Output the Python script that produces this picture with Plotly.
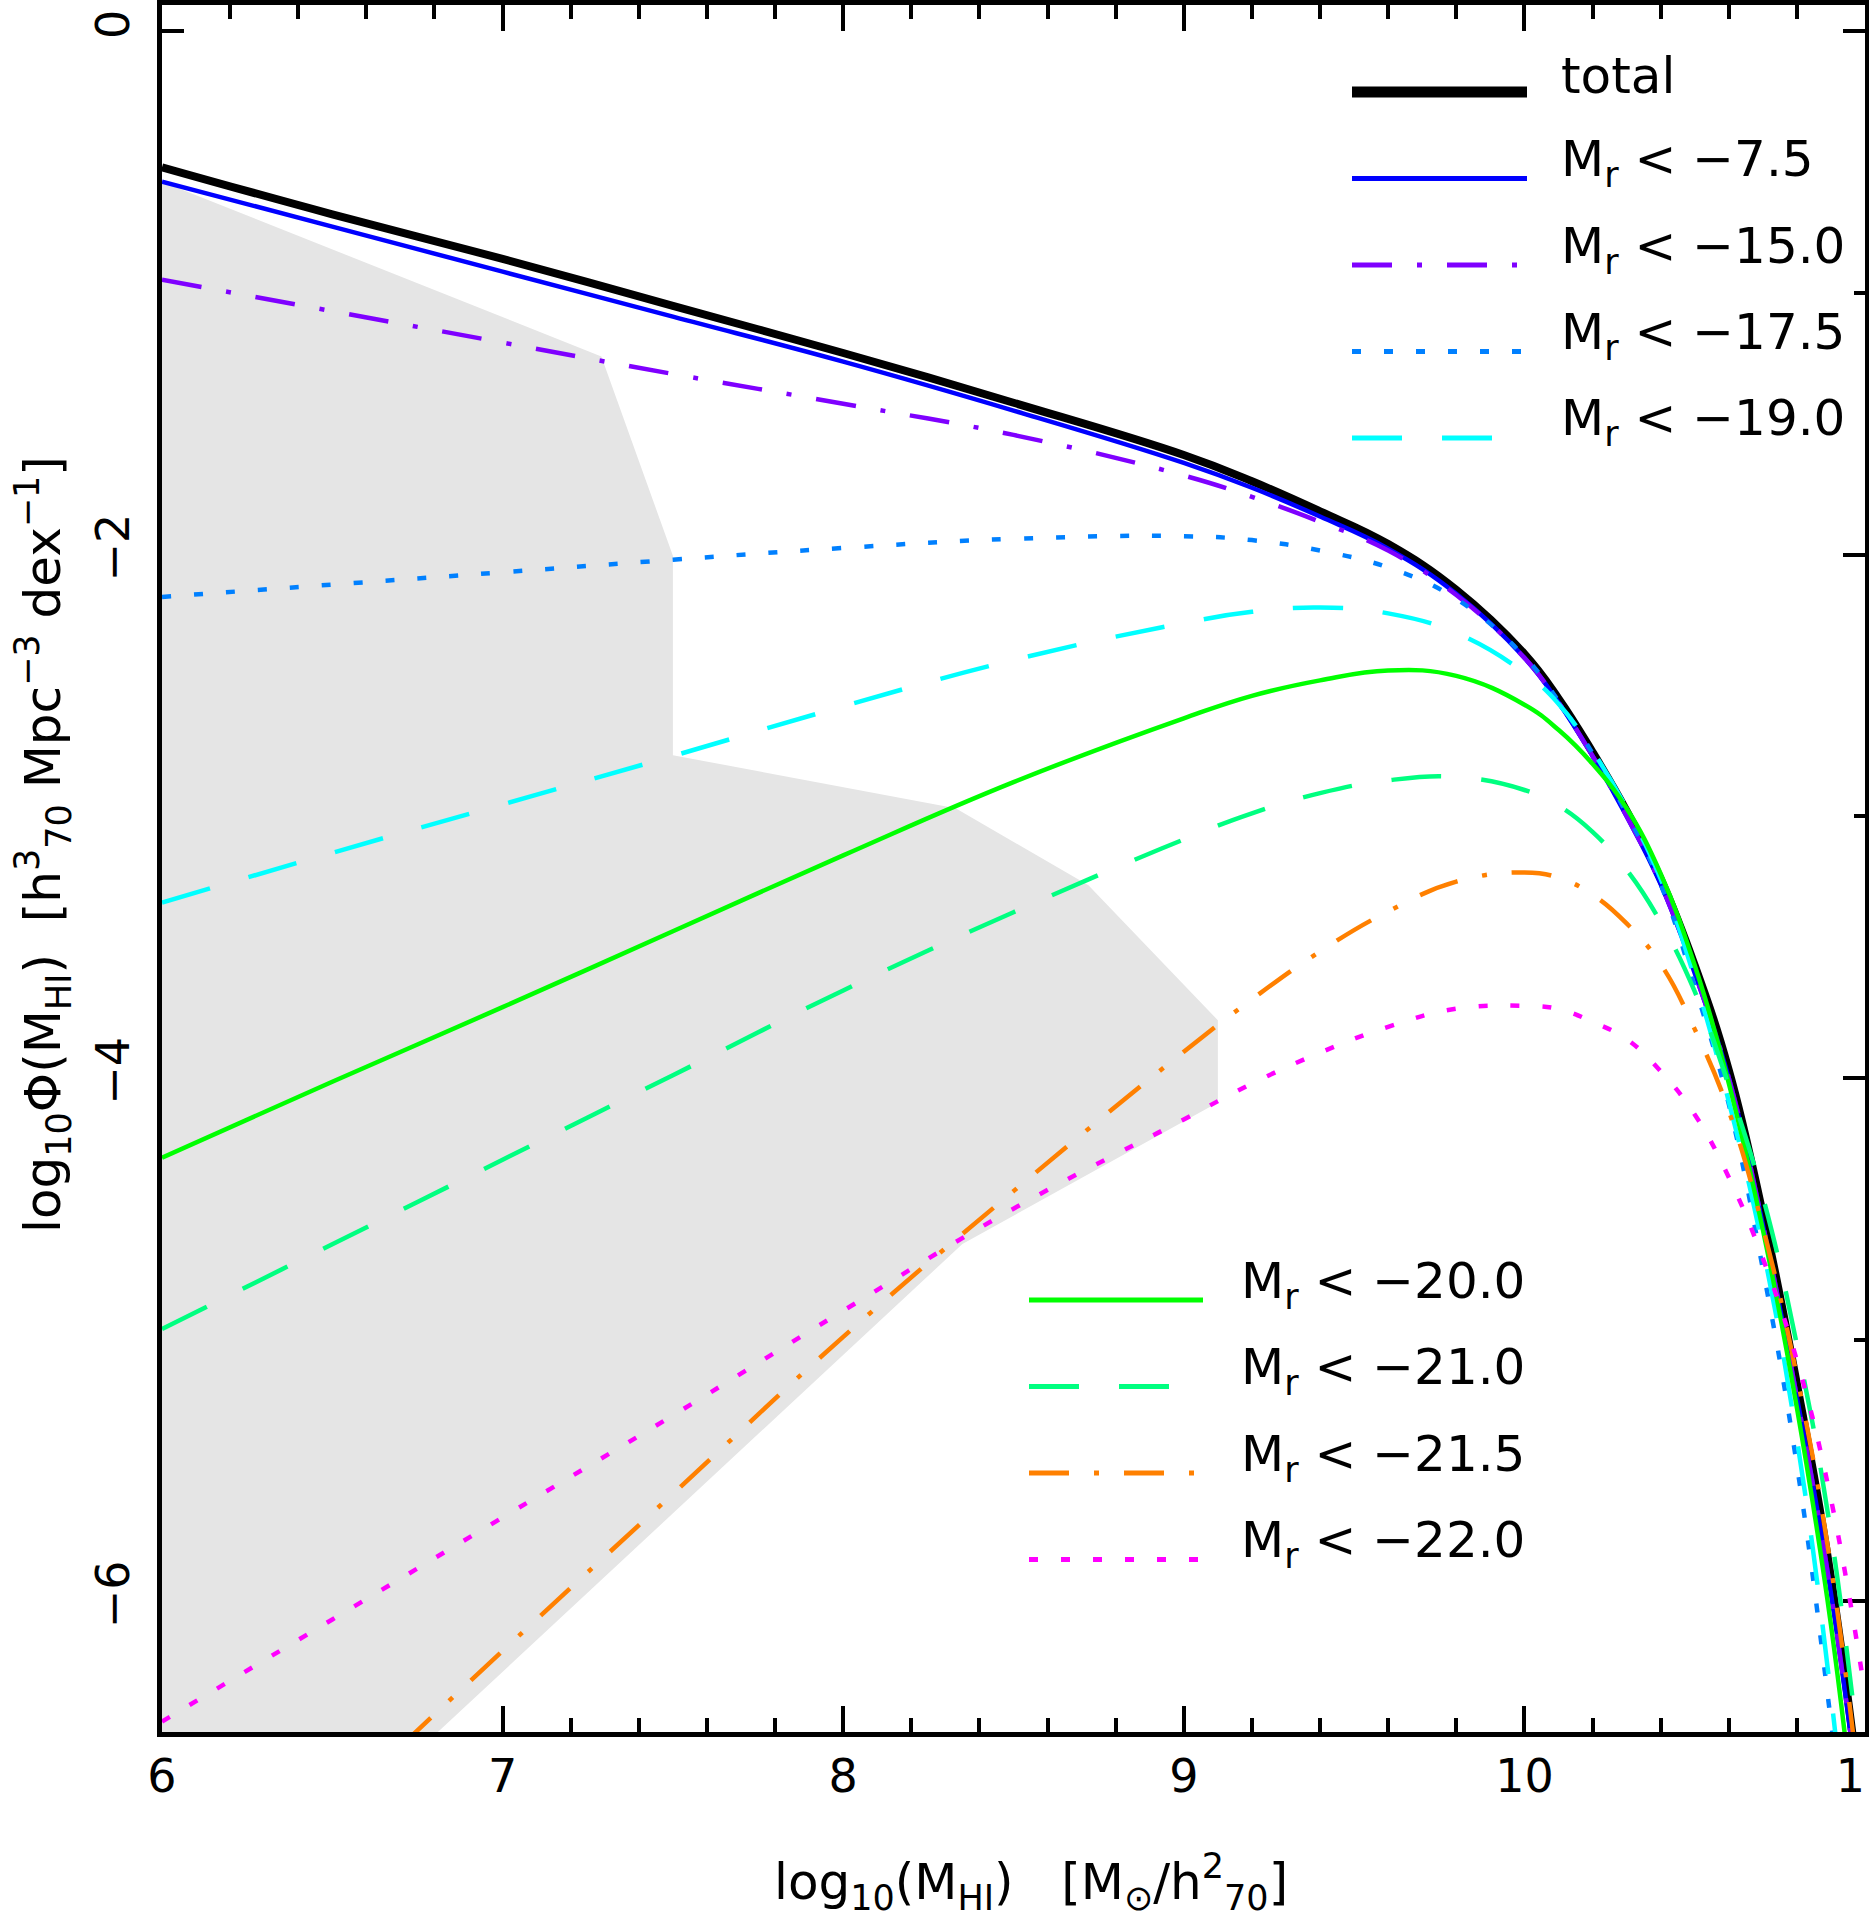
import plotly.graph_objects as go

# log10(M_HI) grid the curves were read at
log_m = [6.0, 6.5, 7.0, 7.5, 8.0, 8.5, 9.0, 9.2, 9.4, 9.6, 9.8,
         10.0, 10.1, 10.2, 10.3, 10.4, 10.5, 10.6, 10.7, 10.8, 10.9, 11.0]

# log10 phi, one list per magnitude cut
phi_total = [-0.52, -0.70, -0.87, -1.05, -1.23, -1.42, -1.62, -1.72, -1.835, -1.96, -2.135,
             -2.38, -2.55, -2.755, -2.98, -3.24, -3.57, -3.97, -4.52, -5.17, -5.91, -6.9]
phi_75 = [-0.575, -0.747, -0.919, -1.091, -1.263, -1.45, -1.65, -1.745, -1.855, -1.978, -2.15,
          -2.395, -2.565, -2.77, -3.0, -3.26, -3.60, -4.00, -4.56, -5.22, -5.97, -6.95]
phi_150 = [-0.95, -1.07, -1.19, -1.31, -1.424, -1.543, -1.698, -1.78, -1.875, -1.985, -2.155,
           -2.395, -2.565, -2.77, -3.0, -3.26, -3.60, -4.00, -4.56, -5.22, -5.97, -6.95]
phi_175 = [-2.162, -2.115, -2.068, -2.02, -1.975, -1.94, -1.93, -1.945, -1.985, -2.05, -2.17,
           -2.39, -2.56, -2.76, -2.99, -3.26, -3.65, -4.10, -4.73, -5.48, -6.46, -7.6]
phi_190 = [-3.33, -3.14, -2.955, -2.77, -2.58, -2.403, -2.262, -2.219, -2.203, -2.225, -2.30,
           -2.452, -2.57, -2.75, -2.97, -3.24, -3.62, -4.09, -4.65, -5.38, -6.36, -7.6]
phi_200 = [-4.305, -4.015, -3.73, -3.44, -3.15, -2.87, -2.626, -2.54, -2.481, -2.443, -2.464,
           -2.574, -2.67, -2.80, -2.97, -3.22, -3.57, -4.02, -4.58, -5.26, -6.09, -7.2]
phi_210 = [-4.96, -4.636, -4.313, -3.99, -3.666, -3.367, -3.089, -2.989, -2.912, -2.863, -2.850,
           -2.90, -2.96, -3.06, -3.205, -3.405, -3.67, -4.03, -4.454, -5.02, -5.74, -6.8]
phi_215 = [None, -6.80, -6.19, -5.59, -4.99, -4.433, -3.90, -3.70, -3.517, -3.364, -3.25,
           -3.215, -3.235, -3.30, -3.41, -3.565, -3.814, -4.126, -4.57, -5.14, -5.87, -6.9]
phi_220 = [-6.46, -6.07, -5.68, -5.29, -4.89, -4.50, -4.159, -4.022, -3.904, -3.805, -3.736,
           -3.725, -3.737, -3.786, -3.852, -3.975, -4.14, -4.38, -4.69, -5.08, -5.61, -6.35]

# grey incompleteness region
grey_x = [6.0, 7.29, 7.50, 7.50, 8.33, 8.72, 9.10, 9.10, 8.35, 6.81, 6.0]
grey_y = [-0.575, -1.243, -2.005, -2.767, -2.97, -3.264, -3.78, -4.094, -4.635, -6.5, -6.5]

labels = ["total", "−7.5", "−15.0", "−17.5", "−19.0",
          "−20.0", "−21.0", "−21.5", "−22.0"]
series = [phi_total, phi_75, phi_150, phi_175, phi_190,
          phi_200, phi_210, phi_215, phi_220]
colors = ["black", "#0000ff", "#7f00ff", "#0080ff", "#00ffff",
          "#00ff00", "#00ff80", "#ff8000", "#ff00ff"]
DOT = "9px,23px"
DASH = "50px,40px"
DASHDOT = "40px,25px,5px,25px"
dashes = ["solid", "solid", DASHDOT, DOT, DASH, "solid", DASH, DASHDOT, DOT]
widths = [8, 4.5, 4.5, 4.5, 4.5, 4.5, 4.5, 4.5, 4.5]

W, H = 1869, 1917
L, R, T, B = 162, 4, 5, 185
FONT = "DejaVu Sans"
NB = "\u00a0"


def px(x):
    return (x - L) / (W - L - R)


def py(y):
    return (H - B - y) / (H - T - B)


fig = go.Figure()
fig.add_trace(go.Scatter(x=grey_x, y=grey_y, mode="lines", fill="toself",
                         fillcolor="#e5e5e5", line=dict(width=0), hoverinfo="skip"))

for lab, ys, c, d, w in zip(labels, series, colors, dashes, widths):
    fig.add_trace(go.Scatter(x=log_m, y=ys, mode="lines", name=lab,
                             line=dict(color=c, dash=d, width=w, shape="spline", smoothing=1.2)))

# two hand-made legends: top right and lower middle
shapes, notes = [], []
rows = [(1352, 1527, 1559, 92 + 86.5 * i) for i in range(5)] + \
       [(1029, 1203, 1239, 1300 + 86.5 * i) for i in range(4)]
for i, (x0, x1, xt, yl) in enumerate(rows):
    shapes.append(dict(type="line", xref="paper", yref="paper",
                       x0=px(x0), x1=px(x1), y0=py(yl), y1=py(yl),
                       line=dict(color=colors[i], dash=dashes[i], width=11 if i == 0 else 5)))
    txt = labels[i] if i == 0 else "M<sub>r</sub>" + NB + "<" + NB + labels[i]
    notes.append(dict(xref="paper", yref="paper", x=px(xt), y=py(yl - 16),
                      xanchor="left", yanchor="middle", showarrow=False, text=txt,
                      font=dict(family=FONT, size=50, color="black")))

# axis titles
title_font = dict(family=FONT, size=50, color="black")
notes.append(dict(xref="paper", yref="paper", x=px(1031), y=py(1882),
                  xanchor="center", yanchor="middle", showarrow=False, font=title_font,
                  text="log<sub>10</sub>(M<sub>HI</sub>)" + NB * 3 +
                       "[M<sub>⊙</sub>/h<sup>2</sup><sub>70</sub>]"))
notes.append(dict(xref="paper", yref="paper", x=px(43), y=py(845), textangle=-90,
                  xanchor="center", yanchor="middle", showarrow=False, font=title_font,
                  text="log<sub>10</sub>Φ(M<sub>HI</sub>)" + NB * 2 +
                       "[h<sup>3</sup><sub>70</sub> Mpc<sup>−3</sup> dex<sup>−1</sup>]"))

axis_common = dict(showline=True, linecolor="black", linewidth=5, mirror="ticks",
                   ticks="inside", tickcolor="black", tickwidth=4,
                   showgrid=False, zeroline=False, layer="below traces",
                   automargin=False, ticklabeloverflow="allow",
                   tickfont=dict(family=FONT, size=46, color="black"))

fig.update_layout(
    width=W, height=H, margin=dict(l=L, r=R, t=T, b=B),
    plot_bgcolor="white", paper_bgcolor="white", showlegend=False,
    shapes=shapes, annotations=notes,
    xaxis=dict(range=[6, 11], dtick=1, ticklen=26, ticklabelstandoff=0,
               minor=dict(dtick=0.2, ticks="inside", ticklen=14, tickwidth=4, tickcolor="black"),
               **axis_common),
    yaxis=dict(range=[-6.5, 0.1], dtick=2, ticklen=22, tickangle=-90, ticklabelstandoff=10,
               minor=dict(dtick=1, ticks="inside", ticklen=11, tickwidth=4, tickcolor="black"),
               **axis_common),
)

fig.write_html("out.html", config={"displayModeBar": False},
               post_script="document.body.style.margin='0px';")
